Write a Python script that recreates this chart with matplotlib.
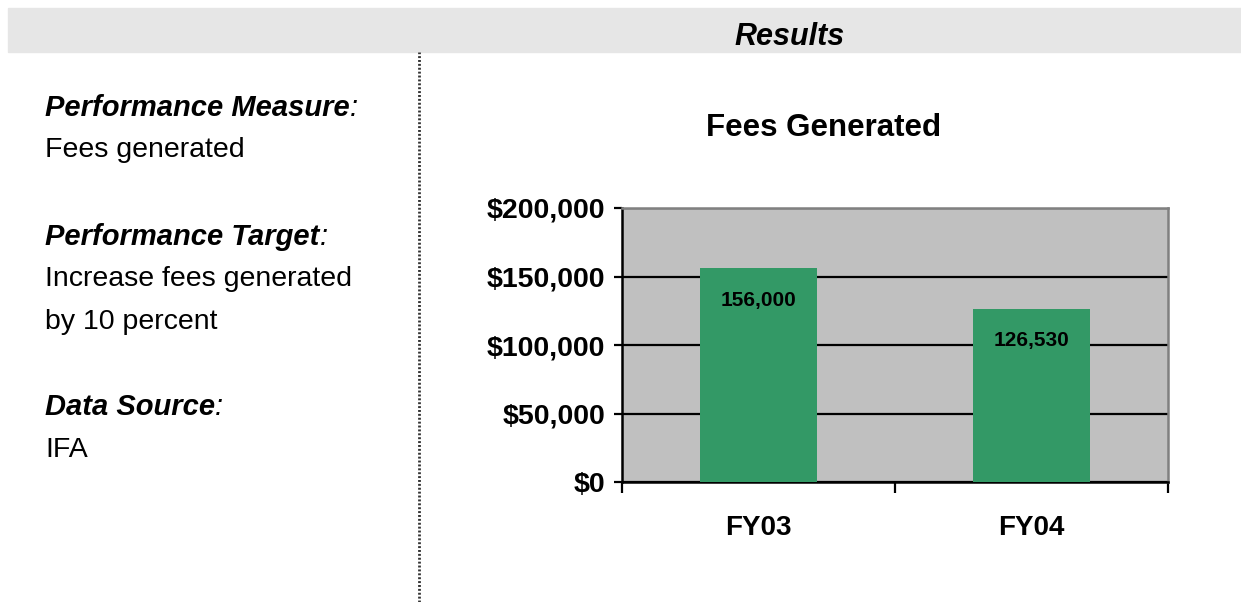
import matplotlib
matplotlib.use('Agg')
import matplotlib.pyplot as plt
from matplotlib.patches import Rectangle
from matplotlib.lines import Line2D
from matplotlib.ticker import FuncFormatter

plt.rcParams['font.family'] = ['Liberation Sans', 'DejaVu Sans']

years = ['FY03', 'FY04']
fees = [156000, 126530]
bar_labels = ['156,000', '126,530']
yticks = [0, 50000, 100000, 150000, 200000]

W, H = 1241, 602
fig = plt.figure(figsize=(W / 100, H / 100), dpi=100)

# header band
fig.patches.append(Rectangle((8 / W, 1 - 52 / H), 1 - 8 / W, 44 / H,
                             transform=fig.transFigure, color='#e6e6e6', zorder=0))
fig.text(790 / W, 1 - 37 / H, 'Results', ha='center', va='center',
         fontsize=22, fontweight='bold', fontstyle='italic')

# dotted divider
fig.lines.append(Line2D([419 / W, 419 / W], [0, 1 - 52 / H], transform=fig.transFigure,
                        color='#333333', lw=2, linestyle=(0, (0.7, 0.7))))

# left-hand text
renderer = fig.canvas.get_renderer()
headings = [('Performance Measure', 108), ('Performance Target', 237), ('Data Source', 407)]
for txt, y in headings:
    t = fig.text(45 / W, 1 - y / H, txt, ha='left', va='center',
                 fontsize=21, fontweight='bold', fontstyle='italic')
    bb = t.get_window_extent(renderer)
    fig.text(bb.x1 / W, 1 - y / H, ':', ha='left', va='center',
             fontsize=21, fontstyle='italic')
body = [('Fees generated', 150), ('Increase fees generated', 279),
        ('by 10 percent', 322), ('IFA', 450)]
for txt, y in body:
    fig.text(45 / W, 1 - y / H, txt, ha='left', va='center', fontsize=20.5)

fig.text(824 / W, 1 - 128 / H, 'Fees Generated', ha='center', va='center',
         fontsize=22.5, fontweight='bold')

# chart
ax = fig.add_axes([622 / W, 1 - 482 / H, 546 / W, 274 / H])
ax.set_facecolor('#c0c0c0')
x = list(range(len(years)))
ax.bar(x, fees, width=0.43, color='#339966', zorder=3)
for xi, v, lab in zip(x, fees, bar_labels):
    ax.annotate(lab, (xi, v), xytext=(0, -23), textcoords='offset points',
                ha='center', va='center', fontsize=15, fontweight='bold', zorder=4)

ax.set_xlim(-0.5, 1.5)
ax.set_ylim(0, 200000)
ax.set_yticks(yticks)
ax.yaxis.set_major_formatter(FuncFormatter(lambda v, p: '${:,.0f}'.format(v)))
ax.grid(axis='y', color='black', lw=1.6, zorder=1)
ax.set_xticks([-0.5, 0.5, 1.5])
ax.set_xticklabels([])
ax.set_xticks(x, minor=True)
ax.set_xticklabels(years, minor=True)
ax.tick_params(axis='x', which='major', direction='out', length=8, width=1.6, color='black')
ax.tick_params(axis='x', which='minor', length=0, pad=24, labelsize=20)
ax.tick_params(axis='y', direction='out', length=6, width=1.6, labelsize=20.5, pad=6)
for lab in ax.get_xticklabels(minor=True) + ax.get_yticklabels():
    lab.set_fontweight('bold')
for s in ['left', 'bottom']:
    ax.spines[s].set_color('black')
    ax.spines[s].set_linewidth(1.8)
for s in ['top', 'right']:
    ax.spines[s].set_color('#808080')
    ax.spines[s].set_linewidth(1.8)

fig.savefig('out.png', dpi=100)
